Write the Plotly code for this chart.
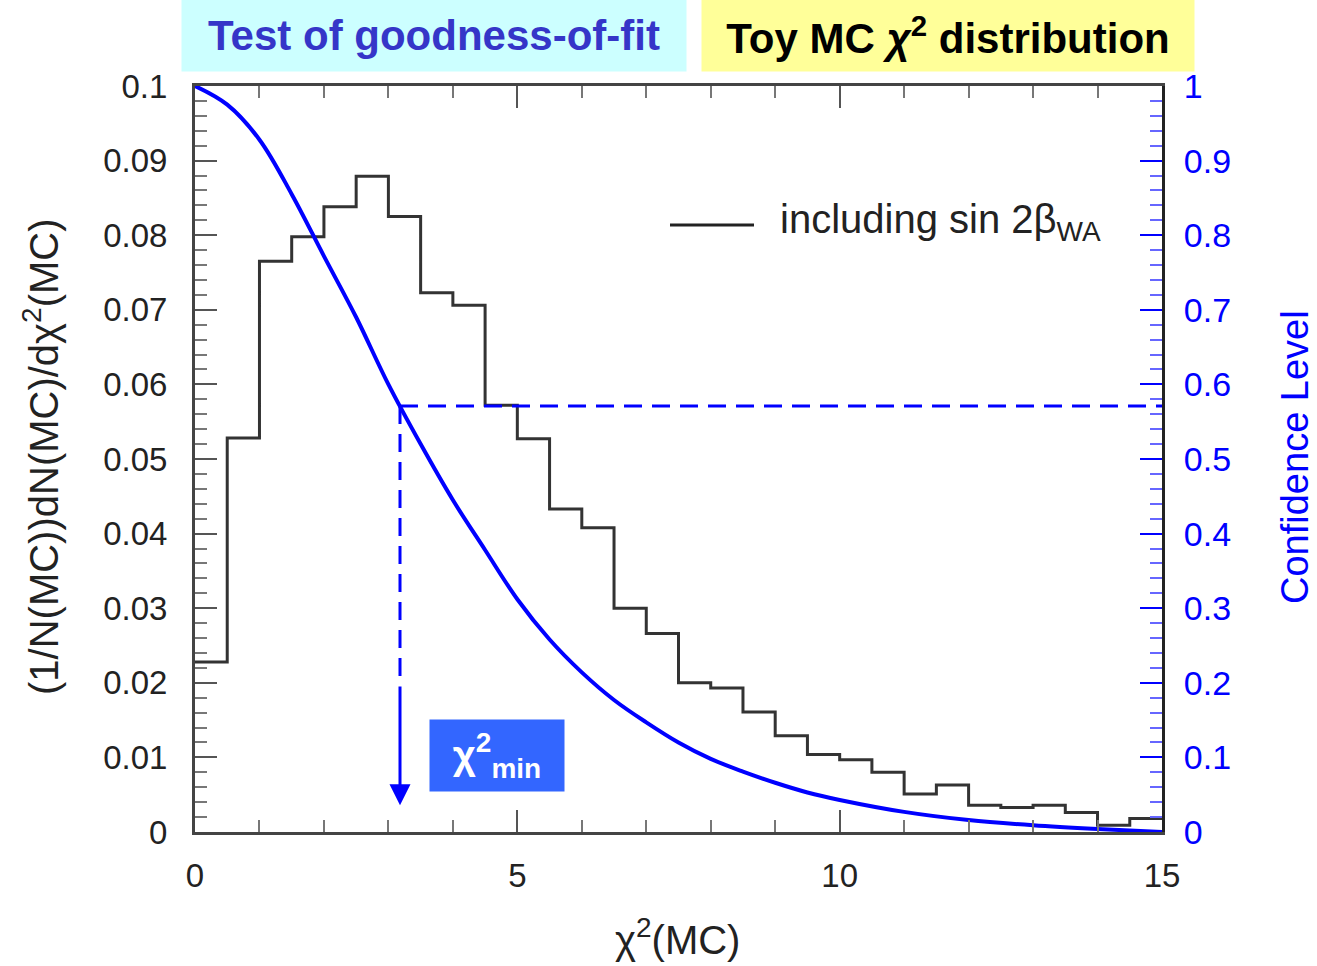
import plotly.graph_objects as go

# ---------------- data ----------------
bin_edges = [i * 0.5 for i in range(31)]
hist_values = [0.0228, 0.0528, 0.0765, 0.0798, 0.0838, 0.0879, 0.0825, 0.0723,
               0.0706, 0.0572, 0.0527, 0.0433, 0.0408, 0.0300, 0.0266, 0.0200,
               0.0193, 0.0161, 0.0129, 0.0104, 0.0097, 0.0080, 0.0051, 0.0063,
               0.0036, 0.0033, 0.0036, 0.0026, 0.0009, 0.0018]

cl_x = [0.0, 0.5, 1.0, 1.5, 2.0, 2.5, 3.0, 3.5, 4.0, 4.5, 5.0, 5.5, 6.0, 6.5,
        7.0, 7.5, 8.0, 8.5, 9.0, 9.5, 10.0, 11.0, 12.0, 13.0, 14.0, 15.0]
cl_y = [1.0, 0.975, 0.928, 0.855, 0.772, 0.690, 0.600, 0.520, 0.445, 0.378,
        0.312, 0.258, 0.214, 0.177, 0.147, 0.120, 0.098, 0.081, 0.066, 0.053,
        0.043, 0.027, 0.016, 0.009, 0.004, 0.0]

chi2_min = 3.18
cl_at_min = 0.571
dash_bottom_cl = 0.197
arrow_tip_cl = 0.036

x_ticks = [0, 5, 10, 15]
y_ticks = [round(0.01 * i, 2) for i in range(11)]
y2_ticks = [round(0.1 * i, 1) for i in range(11)]

FONT = "Liberation Sans, Arial, Helvetica, sans-serif"
BLUE = "#0000ff"

fig = go.Figure()

# histogram as a step line
fig.add_trace(go.Scatter(
    x=bin_edges, y=hist_values + [hist_values[-1]],
    mode="lines", line=dict(shape="hv", color="#333333", width=3),
    name="including sin 2β<sub>WA</sub>", showlegend=False, yaxis="y"))

# confidence level curve
fig.add_trace(go.Scatter(
    x=cl_x, y=cl_y, mode="lines",
    line=dict(shape="spline", smoothing=1.0, color=BLUE, width=4),
    name="Confidence Level", showlegend=False, yaxis="y2"))

# dashed horizontal at CL(chi2_min)
fig.add_trace(go.Scatter(
    x=[chi2_min, 15], y=[cl_at_min, cl_at_min], mode="lines",
    line=dict(color=BLUE, width=3, dash="18px,10px"), showlegend=False, yaxis="y2"))
# dashed vertical
fig.add_trace(go.Scatter(
    x=[chi2_min, chi2_min], y=[cl_at_min, dash_bottom_cl], mode="lines",
    line=dict(color=BLUE, width=3, dash="18px,10px"), showlegend=False, yaxis="y2"))

annotations = []
# arrow
annotations.append(dict(
    x=chi2_min, y=arrow_tip_cl, xref="x", yref="y2",
    ax=chi2_min, ay=dash_bottom_cl, axref="x", ayref="y2",
    showarrow=True, arrowhead=2, arrowsize=1.4, arrowwidth=3,
    arrowcolor=BLUE, text=""))
# chi2_min box
annotations.append(dict(
    x=4.685, y=0.01032, xref="x", yref="y",
    text="<b>χ<sup>2</sup><sub>min</sub></b>", showarrow=False,
    font=dict(family=FONT, size=40, color="white"),
    bgcolor="#3366ff", width=134, height=71, borderpad=0,
    xanchor="center", yanchor="middle"))

# title boxes
annotations.append(dict(
    x=(434 - 195) / 967, y=(832 - 35.5) / 746, xref="paper", yref="paper",
    text="<b>Test of goodness-of-fit</b>", showarrow=False,
    font=dict(family=FONT, size=42, color="#3535c8"),
    bgcolor="#ccffff", width=504, height=71, borderpad=0,
    xanchor="center", yanchor="middle"))
annotations.append(dict(
    x=(948 - 195) / 967, y=(832 - 35.5) / 746, xref="paper", yref="paper",
    text="<b>Toy MC <i>χ</i><sup>2</sup> distribution</b>", showarrow=False,
    font=dict(family=FONT, size=42, color="black"),
    bgcolor="#ffff99", width=492, height=71, borderpad=0,
    xanchor="center", yanchor="middle"))

# legend text
annotations.append(dict(
    x=(778 - 195) / 967, y=(832 - 222) / 746, xref="paper", yref="paper",
    text="including sin 2β<sub>WA</sub>", showarrow=False,
    font=dict(family=FONT, size=40, color="#222222"),
    xanchor="left", yanchor="middle"))

# axis titles
annotations.append(dict(
    x=(41 - 195) / 967, y=0.5027, xref="paper", yref="paper",
    text="(1/N(MC))dN(MC)/dχ<sup>2</sup>(MC)", showarrow=False, textangle=-90,
    font=dict(family=FONT, size=40, color="#222222"),
    xanchor="center", yanchor="middle"))
annotations.append(dict(
    x=(1295 - 195) / 967, y=0.5027, xref="paper", yref="paper",
    text="Confidence Level", showarrow=False, textangle=-90,
    font=dict(family=FONT, size=38, color=BLUE),
    xanchor="center", yanchor="middle"))
annotations.append(dict(
    x=(677 - 195) / 967, y=(832 - 937) / 746, xref="paper", yref="paper",
    text="χ<sup>2</sup>(MC)", showarrow=False,
    font=dict(family=FONT, size=40, color="#222222"),
    xanchor="center", yanchor="middle"))

shapes = [dict(type="line", xref="paper", yref="paper",
               x0=(670 - 195) / 967, x1=(754 - 195) / 967,
               y0=(832 - 225) / 746, y1=(832 - 225) / 746,
               line=dict(color="#222222", width=3))]

fig.update_layout(
    width=1317, height=966, autosize=False,
    margin=dict(l=195, r=155, t=86, b=134),
    paper_bgcolor="white", plot_bgcolor="white",
    showlegend=False,
    annotations=annotations, shapes=shapes,
    xaxis=dict(range=[0, 15], tickvals=x_ticks, ticks="inside", ticklen=22,
               tickwidth=2, tickcolor="#555555",
               minor=dict(dtick=1, ticks="inside", ticklen=12, tickcolor="#777777", tickwidth=2),
               showline=True, linecolor="#444444", linewidth=3, mirror="ticks",
               showgrid=False, zeroline=False,
               tickfont=dict(family=FONT, size=33, color="#222222"),
               ticklabelstandoff=12),
    yaxis=dict(range=[0, 0.1], tickvals=y_ticks, ticks="inside", ticklen=22,
               tickwidth=2, tickcolor="#555555",
               minor=dict(dtick=0.002, ticks="inside", ticklen=12, tickcolor="#777777", tickwidth=2),
               showline=True, linecolor="#444444", linewidth=3, mirror=False,
               showgrid=False, zeroline=False,
               tickfont=dict(family=FONT, size=33, color="#222222"),
               ticklabelstandoff=18),
    yaxis2=dict(range=[0, 1], tickvals=y2_ticks, overlaying="y", side="right",
                ticks="inside", ticklen=22, tickwidth=2, tickcolor=BLUE,
                minor=dict(dtick=0.02, ticks="inside", ticklen=12, tickcolor="#6666ff", tickwidth=2),
                showline=True, linecolor="#222222", linewidth=3,
                showgrid=False, zeroline=False,
                tickfont=dict(family=FONT, size=34, color=BLUE),
                ticklabelstandoff=12),
)

fig.write_html("out.html")
